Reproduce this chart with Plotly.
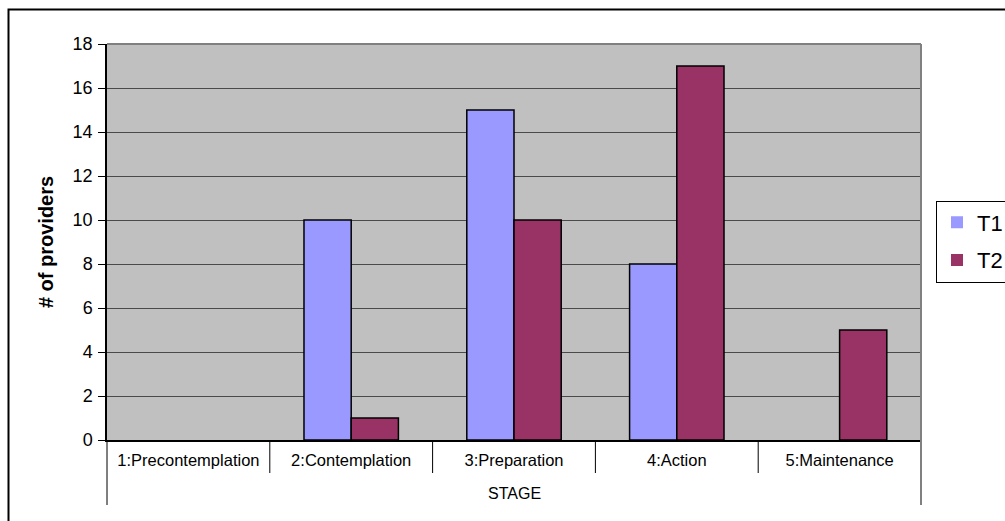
import plotly.graph_objects as go

# Provider counts by stage of change, at two time points
stages = ["1:Precontemplation", "2:Contemplation", "3:Preparation", "4:Action", "5:Maintenance"]
t1_counts = [0, 10, 15, 8, 0]
t2_counts = [0, 1, 10, 17, 5]
y_ticks = [0, 2, 4, 6, 8, 10, 12, 14, 16, 18]

FONT = "Arial, Liberation Sans, sans-serif"

W, H = 1005, 521
L, R, T, B = 107, 84, 44, 81
plot_w = W - L - R
plot_h = H - T - B

def px_x(p):
    return (p - L) / plot_w

def px_y(p):
    return (H - B - p) / plot_h

def outline_widths(values):
    # empty bars get no outline so nothing is drawn for them
    return [0 if v == 0 else 1.5 for v in values]

fig = go.Figure()
fig.add_trace(go.Bar(
    x=stages, y=t1_counts, name="T1", legendgroup="t1",
    marker=dict(color="#9999FF", line=dict(color="#000000", width=outline_widths(t1_counts))),
))
fig.add_trace(go.Bar(
    x=stages, y=t2_counts, name="T2", legendgroup="t2",
    marker=dict(color="#993366", line=dict(color="#000000", width=outline_widths(t2_counts))),
))

shapes = []
# outer chart-area frame
shapes.append(dict(type="rect", xref="paper", yref="paper",
                   x0=px_x(8.5), x1=px_x(1030), y0=px_y(540), y1=px_y(9.5),
                   line=dict(color="#000000", width=2), layer="below"))
# gray top and right edges of the plot area
shapes.append(dict(type="line", xref="paper", yref="paper", x0=0, x1=1, y0=1, y1=1,
                   line=dict(color="#808080", width=2)))
shapes.append(dict(type="line", xref="paper", yref="paper", x0=1, x1=1, y0=0, y1=1,
                   line=dict(color="#808080", width=2)))
# category separators on the x axis
for i in range(1, len(stages)):
    shapes.append(dict(type="line", xref="x", yref="paper", x0=i - 0.5, x1=i - 0.5,
                       y0=0, y1=-(473 - 440) / plot_h,
                       line=dict(color="#000000", width=1)))
# outer lines framing the two label rows
shapes.append(dict(type="line", xref="paper", yref="paper", x0=0, x1=0,
                   y0=0, y1=-(505 - 440) / plot_h, line=dict(color="#000000", width=1)))
shapes.append(dict(type="line", xref="paper", yref="paper", x0=1, x1=1,
                   y0=0, y1=-(505 - 440) / plot_h, line=dict(color="#808080", width=2)))

fig.update_layout(
    width=W, height=H,
    margin=dict(l=L, r=R, t=T, b=B, pad=0, autoexpand=False),
    paper_bgcolor="#FFFFFF",
    plot_bgcolor="#C0C0C0",
    barmode="group",
    bargap=0.42,
    bargroupgap=0,
    font=dict(family=FONT, color="#000000"),
    showlegend=True,
    legend=dict(
        x=px_x(936), xanchor="left", y=px_y(241.5), yanchor="middle",
        bgcolor="#FFFFFF", bordercolor="#000000", borderwidth=1,
        font=dict(family=FONT, size=22, color="#000000"),
        tracegroupgap=6,
        itemclick=False,
    ),
    shapes=shapes,
    annotations=[dict(text="STAGE", xref="paper", yref="paper", x=0.5, y=-(493 - 440) / plot_h,
                      showarrow=False, font=dict(family=FONT, size=16, color="#000000"),
                      xanchor="center", yanchor="middle")],
    xaxis=dict(
        type="category",
        showline=True, linecolor="#000000", linewidth=1.5,
        ticks="", showgrid=False,
        tickfont=dict(family=FONT, size=16.5, color="#000000"),
        ticklabelstandoff=4,
    ),
    yaxis=dict(
        range=[0, 18],
        tickvals=y_ticks,
        showline=True, linecolor="#000000", linewidth=1.5,
        ticks="outside", ticklen=7, tickcolor="#000000", tickwidth=1,
        showgrid=True, gridcolor="#4A4A4A", gridwidth=1,
        zeroline=False,
        tickfont=dict(family=FONT, size=18, color="#000000"),
        ticklabelstandoff=2,
        title=dict(text="<b># of providers</b>", standoff=14,
                   font=dict(family=FONT, size=20, color="#000000")),
    ),
)

fig.write_html("out.html")
